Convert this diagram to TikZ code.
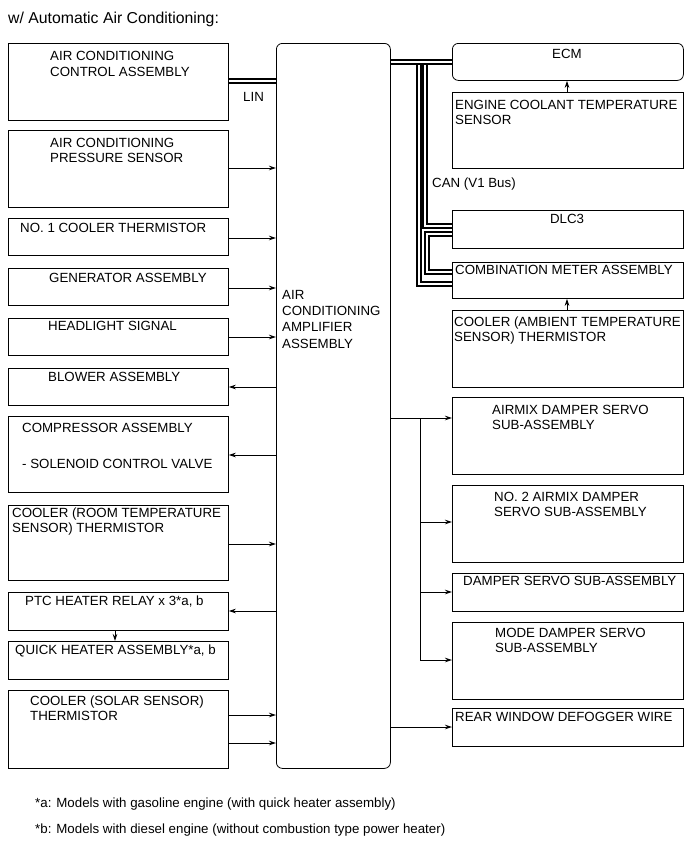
\documentclass[tikz,border=0pt]{standalone}
\usepackage{fontspec}
\setmainfont{Liberation Sans}
\usetikzlibrary{arrows.meta}
\tikzset{
  box/.style={draw=black, line width=0.8pt, rectangle, anchor=north west, inner sep=0pt, minimum width=220pt},
  rbox/.style={box, minimum width=231pt},
  rnd/.style={box, rounded corners=6pt},
  txt/.style={anchor=north west, inner sep=0pt, align=left, font=\fontsize{13.3}{15}\selectfont},
  ctxt/.style={anchor=center, inner sep=0pt, font=\fontsize{13.3}{15}\selectfont},
  arr/.style={line width=0.8pt, -{Stealth[length=7pt,width=4.5pt]}},
  ln/.style={line width=0.8pt},
  bus/.style={line width=2pt, double=white, double distance=1.2pt},
}
\begin{document}
\begin{tikzpicture}[x=1pt,y=-1pt]
\useasboundingbox (0,0) rectangle (691,855);

\node[txt, font=\fontsize{15.8}{18}\selectfont] (title) at (8,12) {w/ Automatic Air Conditioning:};

% left column
\node[box, minimum height=77pt] (ctrl) at (8,43) {};
\node[txt, font=\fontsize{13.3}{16.5}\selectfont] (ctrlT) at (50,51) {AIR CONDITIONING\\CONTROL ASSEMBLY};
\node[box, minimum height=77pt] (pres) at (8,130) {};
\node[txt] (presT) at (50,138) {AIR CONDITIONING\\PRESSURE SENSOR};
\node[box, minimum height=37pt] (no1) at (8,218) {};
\node[txt] (no1T) at (20,223) {NO. 1 COOLER THERMISTOR};
\node[box, minimum height=37pt] (gen) at (8,268) {};
\node[txt] (genT) at (49,273) {GENERATOR ASSEMBLY};
\node[box, minimum height=37pt] (head) at (8,318) {};
\node[txt] (headT) at (48,321) {HEADLIGHT SIGNAL};
\node[box, minimum height=37pt] (blow) at (8,368) {};
\node[txt] (blowT) at (48,372) {BLOWER ASSEMBLY};
\node[box, minimum height=76pt] (comp) at (8,416) {};
\node[txt] (compT1) at (22,423) {COMPRESSOR ASSEMBLY};
\node[txt] (compT2) at (22,459) {- SOLENOID CONTROL VALVE};
\node[box, minimum height=75pt] (room) at (8,505) {};
\node[txt] (roomT) at (12,508) {COOLER (ROOM TEMPERATURE\\SENSOR) THERMISTOR};
\node[box, minimum height=38pt] (ptc) at (8,592) {};
\node[txt] (ptcT) at (25,596) {PTC HEATER RELAY x 3*a, b};
\node[box, minimum height=38pt] (quick) at (8,641) {};
\node[txt] (quickT) at (15,645) {QUICK HEATER ASSEMBLY*a, b};
\node[box, minimum height=78pt] (solar) at (8,690) {};
\node[txt] (solarT) at (30,696) {COOLER (SOLAR SENSOR)\\THERMISTOR};

% amplifier
\node[rnd, minimum width=114pt, minimum height=725pt] (amp) at (276,43) {};
\node[txt, font=\fontsize{13.3}{16.3}\selectfont] (ampT) at (282,290) {AIR\\CONDITIONING\\AMPLIFIER\\ASSEMBLY};

% right column
\node[rnd, minimum width=231pt, minimum height=37pt] (ecm) at (452,43) {};
\node[ctxt] (ecmT) at (567,54) {ECM};
\node[rbox, minimum height=76pt] (ect) at (452,92) {};
\node[txt] (ectT) at (455,100) {ENGINE COOLANT TEMPERATURE\\SENSOR};
\node[txt] (canT) at (432,178) {CAN (V1 Bus)};
\node[rbox, minimum height=38pt] (dlc) at (452,210) {};
\node[ctxt] (dlcT) at (567,219) {DLC3};
\node[rbox, minimum height=36pt] (meter) at (452,262) {};
\node[txt] (meterT) at (455,265) {COMBINATION METER ASSEMBLY};
\node[rbox, minimum height=77pt] (amb) at (452,310) {};
\node[txt] (ambT) at (454,317) {COOLER (AMBIENT TEMPERATURE\\SENSOR) THERMISTOR};
\node[rbox, minimum height=77pt] (airmix) at (452,397) {};
\node[txt] (airmixT) at (492,405) {AIRMIX DAMPER SERVO\\SUB-ASSEMBLY};
\node[rbox, minimum height=77pt] (airmix2) at (452,485) {};
\node[txt] (airmix2T) at (494,492) {NO. 2 AIRMIX DAMPER\\SERVO SUB-ASSEMBLY};
\node[rbox, minimum height=38pt] (damp) at (452,573) {};
\node[txt] (dampT) at (463,576) {DAMPER SERVO SUB-ASSEMBLY};
\node[rbox, minimum height=77pt] (mode) at (452,622) {};
\node[txt] (modeT) at (495,628) {MODE DAMPER SERVO\\SUB-ASSEMBLY};
\node[rbox, minimum height=38pt] (rear) at (452,708) {};
\node[txt] (rearT) at (455,712) {REAR WINDOW DEFOGGER WIRE};

% footnotes
\node[txt] (noteA) at (35,798) {*a: Models with gasoline engine (with quick heater assembly)};
\node[txt] (noteB) at (35,824) {*b: Models with diesel engine (without combustion type power heater)};

% LIN
\draw[bus] (ctrl.east |- 0,81) -- (amp.west |- 0,81);
\node[txt] (linT) at (243,92) {LIN};

% left arrows
\draw[arr] (pres.east |- 0,168) -- (amp.west |- 0,168);
\draw[arr] (no1.east |- 0,238) -- (amp.west |- 0,238);
\draw[arr] (gen.east |- 0,288) -- (amp.west |- 0,288);
\draw[arr] (head.east |- 0,337) -- (amp.west |- 0,337);
\draw[arr] (amp.west |- 0,387) -- (blow.east |- 0,387);
\draw[arr] (amp.west |- 0,455) -- (comp.east |- 0,455);
\draw[arr] (room.east |- 0,544) -- (amp.west |- 0,544);
\draw[arr] (amp.west |- 0,611) -- (ptc.east |- 0,611);
\draw[arr] (ptc.south -| 115,0) -- (quick.north -| 115,0);
\draw[arr] (solar.east |- 0,715) -- (amp.west |- 0,715);
\draw[arr] (solar.east |- 0,743) -- (amp.west |- 0,743);

% CAN bus
\coordinate (j1) at (425,62);
\coordinate (j2) at (419,62);
\draw[bus] (j2) |- (meter.west |- 0,284);
\draw[bus] (j1) |- (dlc.west |- 0,226);
\draw[bus] (dlc.west |- 0,234) -| (427,272) -- (meter.west |- 0,272);
\draw[bus] (amp.east |- 0,62) -- (ecm.west |- 0,62);
\draw[arr] (ect.north -| 567,0) -- (ecm.south -| 567,0);
\draw[arr] (amb.north -| 567,0) -- (meter.south -| 567,0);

% right outputs
\coordinate (bus) at (420,418);
\draw[ln] (amp.east |- 0,418) -- (bus);
\draw[arr] (bus) -- (airmix.west |- 0,418);
\draw[ln] (bus) -- (420,660);
\draw[arr] (420,522) -- (airmix2.west |- 0,522);
\draw[arr] (420,592) -- (damp.west |- 0,592);
\draw[arr] (420,660) -- (mode.west |- 0,660);
\draw[arr] (amp.east |- 0,727) -- (rear.west |- 0,727);
\end{tikzpicture}
\end{document}
